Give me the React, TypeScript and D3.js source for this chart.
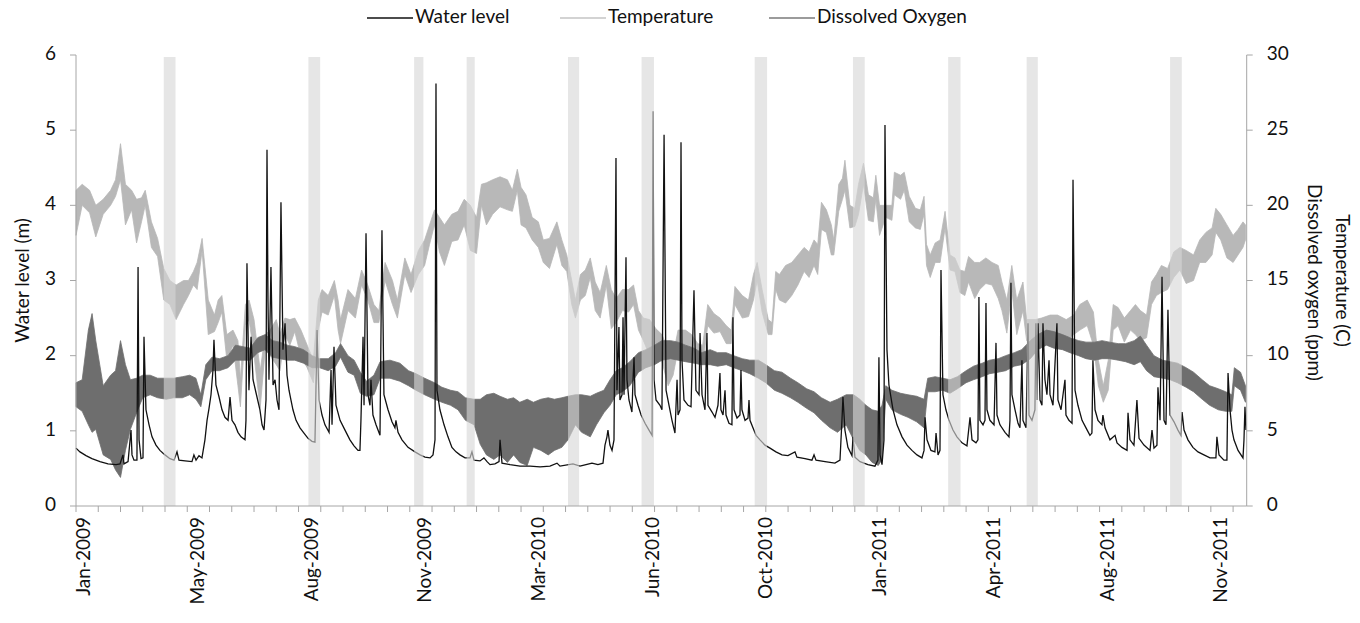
import React from "react";
import * as d3 from "d3";

// x axis is a category axis: one step per record day
const dayCount = 947;
const tickEvery = 18;
const labelDays = [7.5, 99.5, 191.5, 283.5, 375.5, 467.5, 559.5, 651.5, 743.5, 835.5, 927.5];
const labelNames = ["Jan-2009", "May-2009", "Aug-2009", "Nov-2009", "Mar-2010", "Jun-2010",
  "Oct-2010", "Jan-2011", "Apr-2011", "Aug-2011", "Nov-2011"];
const levelTicks = [0, 1, 2, 3, 4, 5, 6];
const rightTicks = [0, 5, 10, 15, 20, 25, 30];

// grey sampling windows [start day, end day]
const windows: [number, number][] = [
  [71, 80.5], [188, 197.5], [273.5, 281], [316, 322.5], [398, 407], [457.5, 467.5],
  [549, 559], [628.5, 638], [705.5, 715.5], [769, 778], [885, 894.5],
];

// water level (m): [day, level]
const waterLevel: [number, number][] = [
  [0, 0.77], [3.2, 0.72], [8.1, 0.67], [12.9, 0.63], [19.4, 0.59], [25.9, 0.56], [32.4, 0.55], [35.6, 0.56],
  [38.0, 0.68], [38.8, 0.56], [42.1, 0.59], [44.5, 1.01], [45.3, 0.68], [46.9, 0.61], [49.3, 0.61], [50.2, 3.18],
  [51.0, 0.88], [52.6, 0.63], [54.2, 0.64], [55.0, 2.25], [56.6, 1.28], [59.1, 1.08], [61.5, 0.92], [64.7, 0.81],
  [67.9, 0.74], [72.0, 0.68], [76.0, 0.63], [79.3, 0.61], [81.7, 0.72], [83.3, 0.61], [88.2, 0.60], [93.8, 0.59],
  [95.4, 0.68], [97.1, 0.61], [99.5, 0.67], [101.9, 0.64], [104.3, 0.88], [106.0, 1.14], [107.6, 1.30], [109.2, 1.48],
  [110.8, 1.81], [111.6, 2.21], [113.2, 1.61], [115.7, 1.45], [118.1, 1.28], [120.5, 1.18], [123.0, 1.14], [124.6, 1.45],
  [126.2, 1.14], [128.6, 1.08], [131.0, 0.98], [133.5, 0.92], [136.7, 0.88], [137.5, 1.14], [138.3, 3.23], [139.9, 1.54],
  [141.6, 2.25], [143.2, 1.68], [146.4, 1.45], [148.8, 1.28], [150.5, 1.08], [152.1, 1.01], [153.7, 1.41], [154.5, 4.74],
  [155.3, 2.74], [156.1, 1.68], [157.7, 3.18], [159.4, 1.61], [161.0, 1.68], [162.6, 1.41], [164.2, 1.28], [165.8, 4.04],
  [167.4, 2.08], [169.1, 2.43], [170.7, 1.74], [172.3, 1.54], [173.9, 1.41], [175.5, 1.28], [178.0, 1.14], [181.2, 1.04],
  [184.4, 0.97], [187.7, 0.90], [190.9, 0.86], [193.3, 0.85], [195.0, 2.34], [196.6, 1.41], [199.0, 1.21], [201.4, 1.08],
  [204.7, 0.98], [206.3, 1.81], [207.1, 1.08], [208.7, 2.12], [210.3, 1.34], [213.6, 1.14], [217.6, 1.01], [221.6, 0.88],
  [224.9, 0.80], [228.1, 0.74], [229.7, 0.74], [230.5, 1.14], [232.2, 2.25], [233.0, 1.34], [234.6, 3.63], [236.2, 1.48],
  [237.8, 1.34], [238.6, 1.68], [240.2, 1.21], [242.7, 1.08], [245.9, 0.94], [247.5, 3.67], [249.1, 1.48], [252.4, 1.28],
  [255.6, 1.12], [258.0, 1.04], [258.8, 1.14], [260.5, 0.98], [263.7, 0.88], [268.6, 0.78], [274.2, 0.72], [278.3, 0.68],
  [282.3, 0.65], [286.4, 0.64], [288.8, 0.68], [290.4, 0.88], [291.2, 5.62], [292.0, 1.54], [294.4, 1.28], [297.7, 1.08],
  [300.9, 0.92], [304.1, 0.78], [307.4, 0.72], [310.6, 0.68], [314.7, 0.64], [318.7, 0.64], [320.3, 0.72], [321.9, 0.61],
  [326.8, 0.60], [330.0, 0.64], [332.5, 0.59], [334.9, 0.55], [338.9, 0.56], [342.2, 0.59], [343.0, 0.88], [344.6, 0.57],
  [351.1, 0.55], [359.2, 0.53], [367.3, 0.53], [375.4, 0.52], [383.4, 0.53], [389.1, 0.57], [391.5, 0.53], [402.0, 0.56],
  [407.7, 0.53], [417.4, 0.57], [422.2, 0.55], [426.3, 0.57], [427.9, 0.81], [429.5, 0.92], [430.3, 1.01], [431.9, 0.81],
  [433.6, 0.74], [435.2, 0.88], [436.0, 2.74], [436.8, 4.63], [437.6, 1.54], [439.2, 2.38], [440.0, 1.41], [441.7, 1.48],
  [442.5, 2.51], [443.3, 1.48], [444.9, 3.31], [445.7, 1.68], [447.3, 1.41], [449.7, 1.25], [450.6, 1.68], [451.4, 1.98],
  [452.2, 1.48], [454.6, 1.34], [457.1, 1.21], [460.3, 1.10], [463.5, 1.01], [466.0, 0.94], [466.8, 5.25], [467.6, 1.68],
  [469.2, 1.41], [472.4, 1.34], [474.0, 1.28], [475.7, 4.94], [477.3, 1.54], [479.7, 1.34], [482.1, 1.14], [484.5, 0.97],
  [486.2, 1.68], [487.0, 1.21], [488.6, 1.28], [489.4, 4.84], [490.2, 1.94], [491.8, 1.41], [495.1, 1.34], [497.5, 1.32],
  [499.9, 2.87], [501.5, 1.54], [504.0, 1.48], [504.8, 2.30], [506.4, 1.48], [508.8, 1.28], [510.4, 2.30], [511.2, 1.34],
  [514.5, 1.25], [516.9, 1.18], [519.3, 1.34], [520.9, 1.77], [521.7, 1.28], [523.4, 1.21], [525.0, 1.54], [525.8, 1.21],
  [528.2, 1.10], [530.6, 1.08], [531.4, 2.51], [532.3, 1.28], [534.7, 1.17], [537.1, 1.21], [537.9, 1.81], [538.7, 1.28],
  [541.2, 1.14], [543.6, 1.17], [544.4, 1.41], [545.2, 1.14], [547.6, 1.04], [550.1, 0.94], [553.3, 0.88], [557.3, 0.81],
  [561.4, 0.77], [566.2, 0.72], [571.1, 0.68], [575.9, 0.67], [581.6, 0.72], [583.2, 0.65], [589.7, 0.63], [595.3, 0.61],
  [597.0, 0.68], [598.6, 0.61], [605.9, 0.59], [613.9, 0.57], [618.0, 0.61], [619.6, 1.14], [620.4, 1.45], [622.0, 1.01],
  [624.4, 0.78], [627.7, 0.67], [628.5, 0.92], [630.1, 0.65], [634.2, 0.59], [640.6, 0.55], [646.3, 0.53], [648.7, 0.61],
  [649.5, 1.98], [650.4, 0.68], [652.0, 0.55], [653.6, 0.88], [654.4, 5.07], [656.0, 2.08], [657.6, 1.61], [660.9, 1.28],
  [664.1, 1.08], [668.2, 0.92], [672.2, 0.81], [676.2, 0.74], [680.3, 0.68], [684.3, 0.64], [686.0, 0.74], [686.8, 1.18],
  [688.4, 0.88], [691.6, 0.74], [694.8, 0.72], [695.7, 0.97], [697.3, 0.68], [698.9, 0.74], [699.7, 3.14], [701.3, 1.48],
  [703.7, 1.28], [706.2, 1.14], [709.4, 1.01], [712.6, 0.92], [716.7, 0.84], [720.7, 0.80], [723.2, 1.18], [724.8, 0.88],
  [728.0, 0.84], [729.6, 0.88], [730.4, 2.78], [731.2, 1.14], [733.7, 1.08], [735.3, 1.14], [736.1, 2.70], [736.9, 1.28],
  [739.3, 1.14], [742.6, 1.08], [744.2, 2.17], [745.0, 1.21], [747.4, 1.08], [751.5, 0.98], [754.7, 0.92], [755.5, 1.14],
  [756.3, 2.97], [757.1, 1.48], [759.6, 1.28], [762.0, 1.10], [763.6, 1.04], [765.2, 1.94], [766.0, 1.14], [768.5, 1.04],
  [770.1, 2.43], [770.9, 1.21], [773.3, 1.14], [775.7, 1.28], [776.5, 2.43], [777.4, 1.41], [778.2, 2.43], [779.8, 1.41],
  [781.4, 1.34], [782.2, 2.43], [783.8, 1.68], [785.4, 1.48], [787.1, 1.94], [787.9, 1.48], [790.3, 1.34], [793.5, 2.43],
  [794.3, 1.41], [796.8, 1.28], [800.0, 1.68], [800.8, 1.21], [803.2, 1.14], [805.7, 1.10], [806.5, 4.34], [808.1, 1.54],
  [810.5, 1.34], [813.8, 1.14], [817.0, 1.04], [820.2, 0.94], [821.8, 0.97], [822.6, 1.94], [824.3, 1.28], [826.7, 1.14],
  [829.9, 1.08], [830.7, 1.21], [832.4, 1.04], [836.4, 0.88], [840.5, 0.94], [842.1, 0.84], [846.1, 0.78], [850.2, 0.74],
  [851.0, 1.24], [852.6, 0.88], [855.8, 0.81], [858.2, 1.41], [859.9, 0.90], [863.9, 0.81], [868.8, 0.74], [870.4, 1.01],
  [872.0, 0.77], [874.4, 0.81], [875.2, 1.58], [876.9, 1.14], [878.5, 3.05], [880.1, 1.14], [881.7, 1.08], [883.3, 2.61],
  [885.0, 1.21], [888.2, 1.12], [891.4, 1.01], [893.8, 0.94], [894.7, 1.25], [896.3, 1.01], [899.5, 0.88], [903.5, 0.78],
  [907.6, 0.72], [912.4, 0.68], [917.3, 0.64], [922.1, 0.64], [922.9, 0.92], [924.6, 0.68], [928.6, 0.61], [931.0, 0.61],
  [931.9, 1.77], [933.5, 1.28], [935.1, 1.01], [936.7, 0.88], [940.0, 0.74], [944.0, 0.64], [944.8, 0.88], [945.6, 1.32],
  [946.4, 1.01],
];

// temperature (C): [day, daily low, daily high]
const temperature: [number, number, number][] = [
  [0, 18.0, 21.0], [5, 20.0, 21.4], [11, 19.5, 21.0], [16, 17.9, 20.0], [22, 19.4, 20.4], [28, 20.0, 21.0], [32, 20.6, 21.7],
  [36, 21.7, 24.1], [40, 18.7, 21.4], [45, 19.7, 21.0], [49, 17.5, 20.4], [53, 18.9, 20.5], [56, 20.0, 21.0], [61, 17.2, 18.9],
  [66, 16.6, 17.8], [71, 13.7, 15.8], [76, 13.4, 15.0], [81, 12.4, 14.7], [87, 13.4, 15.0], [91, 14.0, 15.0], [95, 14.7, 15.6],
  [98, 14.4, 16.2], [102, 17.0, 17.8], [107, 11.4, 13.7], [112, 11.6, 12.7], [115, 12.2, 13.7], [118, 12.9, 14.0], [122, 9.7, 11.4],
  [127, 10.7, 11.7], [131, 8.0, 11.0], [133, 6.6, 8.4], [137, 12.0, 13.4], [140, 12.4, 13.7], [144, 10.0, 12.4], [149, 6.5, 9.0],
  [153, 10.4, 11.4], [157, 10.0, 11.7], [162, 9.4, 12.4], [165, 9.0, 11.4], [169, 11.4, 12.5], [173, 10.7, 12.4], [177, 11.6, 12.5],
  [182, 9.9, 11.7], [187, 9.2, 10.7], [192, 8.2, 9.7], [196, 11.7, 13.7], [199, 12.9, 14.4], [204, 12.7, 14.0], [209, 14.0, 15.0],
  [212, 11.7, 13.7], [214, 10.8, 12.4], [220, 13.0, 14.4], [226, 12.5, 13.8], [231, 14.7, 15.7], [236, 13.7, 14.7], [241, 12.2, 13.4],
  [245, 12.2, 13.0], [250, 15.0, 16.2], [256, 13.4, 15.0], [260, 12.5, 13.7], [266, 15.4, 16.5], [271, 14.2, 15.4], [277, 15.4, 17.0],
  [282, 16.0, 17.7], [286, 17.4, 18.7], [290, 18.7, 19.7], [294, 16.9, 19.2], [298, 16.0, 18.7], [304, 17.6, 19.4], [309, 17.7, 19.6],
  [314, 18.7, 20.4], [319, 17.0, 20.0], [324, 16.8, 19.2], [328, 20.0, 21.4], [332, 18.7, 21.5], [337, 19.4, 21.7], [343, 19.9, 21.9],
  [349, 19.7, 21.7], [353, 19.6, 21.0], [357, 21.0, 22.4], [360, 18.7, 21.2], [364, 18.5, 20.7], [369, 17.7, 19.2], [374, 17.2, 18.9],
  [378, 16.2, 17.7], [383, 15.8, 17.8], [389, 17.4, 18.9], [393, 16.0, 17.7], [397, 15.6, 16.7], [401, 13.4, 15.0], [404, 12.5, 13.7],
  [408, 13.7, 15.4], [412, 14.0, 15.7], [416, 15.2, 16.5], [420, 13.0, 14.9], [424, 12.5, 14.2], [429, 14.7, 16.0], [433, 11.8, 14.4],
  [437, 12.2, 13.8], [442, 13.0, 14.4], [447, 12.9, 14.4], [451, 13.4, 14.7], [455, 11.7, 13.0], [459, 11.0, 12.5], [464, 10.0, 12.4],
  [469, 10.0, 11.8], [474, 9.6, 11.4], [479, 8.0, 10.4], [483, 8.7, 10.0], [487, 10.4, 11.7], [493, 10.5, 11.7], [498, 10.0, 11.4],
  [503, 9.5, 10.8], [507, 9.4, 10.7], [511, 12.0, 13.4], [516, 11.5, 12.8], [521, 11.6, 12.5], [526, 10.8, 12.0], [530, 10.8, 11.7],
  [533, 13.4, 14.6], [539, 12.5, 14.0], [544, 12.6, 13.7], [548, 13.7, 15.4], [551, 15.0, 16.2], [555, 12.9, 14.4], [560, 11.4, 12.4],
  [563, 11.4, 12.2], [566, 14.4, 15.6], [569, 13.7, 15.4], [574, 13.5, 16.0], [579, 14.0, 16.2], [584, 14.7, 16.7], [589, 15.6, 17.2],
  [593, 15.2, 16.9], [597, 16.0, 17.7], [600, 15.4, 17.4], [603, 18.4, 20.2], [607, 18.2, 19.7], [611, 16.7, 18.7], [613, 16.7, 17.7],
  [617, 19.6, 21.4], [620, 20.4, 21.8], [622, 21.0, 23.0], [626, 18.5, 20.0], [630, 18.6, 19.8], [633, 19.4, 21.4], [637, 21.4, 22.8],
  [641, 19.0, 20.7], [645, 18.9, 20.5], [647, 20.4, 22.0], [650, 18.0, 20.0], [655, 19.2, 20.0], [660, 19.0, 20.0], [662, 20.7, 22.2],
  [667, 20.4, 22.0], [670, 21.0, 22.2], [674, 18.9, 20.6], [679, 18.5, 19.8], [683, 18.4, 19.7], [686, 19.4, 20.6], [688, 16.0, 17.4],
  [691, 15.2, 16.7], [695, 16.2, 17.5], [699, 16.2, 17.7], [703, 18.5, 19.6], [707, 15.7, 16.7], [711, 15.6, 16.5], [715, 14.2, 15.7],
  [719, 14.0, 15.6], [722, 14.9, 16.6], [727, 13.8, 16.2], [731, 14.4, 16.2], [736, 14.8, 16.5], [741, 14.7, 16.2], [746, 13.8, 16.0],
  [749, 13.0, 14.9], [753, 11.5, 13.7], [757, 14.4, 16.0], [761, 11.4, 13.7], [766, 13.0, 14.9], [769, 11.0, 12.4], [776, 10.7, 12.4],
  [781, 10.7, 12.5], [788, 11.4, 12.7], [794, 11.0, 12.7], [801, 11.0, 12.4], [807, 11.4, 12.7], [812, 11.7, 13.4], [818, 12.0, 13.7],
  [823, 10.7, 12.9], [827, 8.0, 9.7], [831, 6.9, 8.0], [835, 7.7, 9.7], [839, 11.7, 13.4], [843, 12.0, 13.2], [848, 10.9, 12.5],
  [853, 11.7, 13.0], [857, 11.4, 13.4], [861, 11.0, 13.0], [866, 11.2, 12.7], [870, 13.4, 14.9], [874, 14.0, 15.4], [878, 14.2, 16.0],
  [883, 14.4, 15.8], [888, 15.2, 16.9], [893, 15.7, 17.2], [898, 14.8, 17.0], [904, 15.0, 16.7], [909, 16.2, 17.7], [914, 16.2, 18.2],
  [919, 16.7, 18.5], [922, 18.2, 19.8], [926, 17.7, 19.4], [931, 16.5, 18.7], [936, 16.2, 18.0], [940, 16.7, 18.4], [944, 17.2, 18.9],
  [946, 17.7, 18.7],
];

// dissolved oxygen (ppm): [day, daily low, daily high]
const dissolvedOxygen: [number, number, number][] = [
  [0, 6.6, 8.2], [5, 6.3, 8.4], [10, 5.4, 11.7], [13, 4.9, 12.8], [16, 5.1, 11.0], [22, 3.4, 8.0], [28, 3.1, 8.7], [32, 2.4, 9.0],
  [36, 1.9, 11.0], [40, 3.7, 9.4], [44, 5.1, 8.4], [49, 6.2, 8.5], [54, 7.2, 8.7], [60, 7.4, 8.7], [66, 7.2, 8.5], [73, 7.1, 8.5],
  [79, 7.2, 8.5], [86, 7.2, 8.6], [92, 7.4, 8.7], [97, 7.1, 8.5], [101, 6.6, 7.4], [105, 8.4, 9.4], [110, 9.0, 9.9], [116, 9.0, 9.8],
  [123, 9.2, 10.0], [129, 9.7, 10.7], [135, 9.7, 10.6], [141, 9.7, 10.5], [147, 10.2, 11.2], [153, 10.4, 11.4], [159, 9.9, 11.0],
  [165, 9.8, 10.9], [171, 9.7, 10.7], [177, 9.7, 10.6], [184, 9.5, 10.4], [191, 9.2, 10.0], [197, 9.2, 9.8], [204, 9.0, 9.8],
  [210, 9.3, 10.2], [214, 9.9, 10.8], [220, 8.9, 10.0], [225, 8.7, 9.7], [230, 7.5, 8.9], [235, 7.3, 8.3], [241, 7.4, 8.7],
  [246, 8.5, 9.6], [254, 8.5, 9.7], [262, 8.3, 9.5], [269, 8.0, 9.0], [275, 7.7, 8.8], [282, 7.4, 8.5], [290, 7.1, 8.2],
  [296, 6.9, 7.9], [303, 6.7, 7.7], [309, 6.4, 7.6], [315, 5.7, 7.2], [322, 5.4, 7.1], [327, 4.1, 7.1], [332, 3.4, 7.4],
  [338, 3.1, 7.5], [343, 3.4, 7.3], [349, 2.9, 7.1], [354, 3.4, 7.2], [359, 2.9, 6.9], [365, 2.7, 7.1], [370, 3.9, 6.9],
  [376, 3.7, 7.1], [382, 3.4, 7.2], [387, 3.7, 7.1], [393, 3.9, 7.2], [398, 4.4, 7.3], [404, 5.4, 7.4], [409, 4.9, 7.4],
  [416, 4.6, 7.3], [421, 5.4, 7.5], [427, 6.2, 7.7], [432, 6.7, 8.4], [437, 7.4, 9.0], [442, 7.6, 9.2], [448, 8.0, 9.6],
  [455, 8.9, 10.2], [461, 9.2, 10.4], [468, 9.4, 10.7], [474, 9.7, 11.0], [481, 9.8, 11.0], [487, 9.7, 10.9], [493, 9.6, 10.7],
  [500, 9.5, 10.5], [506, 9.4, 10.2], [513, 9.4, 10.4], [519, 9.3, 10.2], [526, 9.4, 10.2], [532, 9.2, 10.0], [539, 9.0, 9.8],
  [545, 8.8, 9.7], [552, 8.5, 9.7], [558, 8.2, 9.4], [565, 7.7, 9.0], [571, 7.5, 8.9], [578, 7.2, 8.5], [584, 6.9, 8.2],
  [591, 6.5, 7.8], [597, 6.2, 7.6], [603, 5.7, 7.2], [610, 5.2, 6.9], [616, 4.9, 7.1], [623, 5.4, 7.4], [629, 4.4, 7.4],
  [634, 3.7, 7.1], [639, 3.4, 6.7], [644, 2.9, 6.4], [649, 2.7, 6.3], [652, 3.1, 6.7], [655, 7.1, 8.0], [660, 6.4, 7.7],
  [667, 6.1, 7.5], [673, 5.9, 7.4], [680, 5.6, 7.3], [686, 5.2, 7.1], [689, 7.6, 8.5], [695, 7.6, 8.6], [701, 7.7, 8.5],
  [707, 7.5, 8.4], [713, 7.8, 8.6], [720, 8.2, 9.0], [726, 8.4, 9.3], [733, 8.6, 9.5], [739, 8.8, 9.7], [746, 8.9, 9.8],
  [752, 9.0, 10.0], [759, 9.3, 10.2], [765, 9.4, 10.4], [772, 9.8, 11.0], [778, 10.4, 11.4], [785, 10.7, 11.7], [791, 10.5, 11.6],
  [798, 10.4, 11.4], [804, 10.2, 11.2], [811, 10.0, 11.0], [817, 9.8, 10.9], [824, 9.7, 10.9], [830, 9.8, 11.0], [836, 9.8, 10.9],
  [843, 9.7, 10.8], [849, 9.6, 10.8], [856, 9.4, 11.0], [861, 9.6, 11.3], [866, 9.0, 10.7], [872, 8.6, 10.0], [879, 8.5, 9.7],
  [885, 8.4, 9.6], [891, 8.2, 9.5], [898, 7.9, 9.2], [904, 7.6, 8.9], [911, 7.1, 8.4], [917, 6.7, 8.0], [924, 6.4, 7.8],
  [930, 6.3, 7.6], [935, 6.3, 7.4], [937, 8.0, 9.2], [942, 7.7, 8.9], [946, 6.9, 8.0],
];

const legendItems = [
  { name: "Water level", color: "#111", x: 367 },
  { name: "Temperature", color: "#c4c4c4", x: 560 },
  { name: "Dissolved Oxygen", color: "#7a7a7a", x: 769 },
];

export default function App() {
  const width = 1360;
  const height = 623;
  const left = 76;
  const right = 1246.7;
  const top = 55;
  const bottom = 506;
  const font = "Lato, 'Open Sans', sans-serif";
  const axisColor = "#a6a6a6";

  const x = d3.scaleLinear().domain([0, dayCount]).range([left, right]);
  const yLevel = d3.scaleLinear().domain([0, 6]).range([bottom, top]);
  const yRight = d3.scaleLinear().domain([0, 30]).range([bottom, top]);

  const rangeArea = d3.area<[number, number, number]>()
    .x((d) => x(d[0]))
    .y0((d) => yRight(d[1]))
    .y1((d) => yRight(d[2]));
  const levelLine = d3.line<[number, number]>()
    .x((d) => x(d[0]))
    .y((d) => yLevel(d[1]));

  const xTicks = d3.range(0, dayCount, tickEvery);

  return (
    <svg width={width} height={height} style={{ position: "absolute", left: 0, top: 0 }} fontFamily={font}>
      <rect width={width} height={height} fill="#fff" />

      <path d={rangeArea(temperature) ?? ""} fill="#b8b8b8" stroke="#b8b8b8" strokeWidth={0.8} />
      <path d={rangeArea(dissolvedOxygen) ?? ""} fill="#6e6e6e" stroke="#6e6e6e" strokeWidth={0.8} />
      <path d={levelLine(waterLevel) ?? ""} fill="none" stroke="#111" strokeWidth={1.3} />

      {windows.map(([a, b], i) => (
        <rect key={i} x={x(a)} y={yLevel(6) + 2} width={x(b) - x(a)} height={yLevel(0) - yLevel(6) - 2}
          fill="#d6d6d6" fillOpacity={0.62} />
      ))}

      {/* left axis */}
      <line x1={left} x2={left} y1={top} y2={bottom} stroke={axisColor} />
      {levelTicks.map((t) => (
        <g key={t} transform={`translate(${left},${yLevel(t)})`}>
          <line x1={-6} x2={0} stroke={axisColor} />
          <text x={-20} dominantBaseline="middle" textAnchor="end" fontSize={19} fill="#111">{t}</text>
        </g>
      ))}
      <text transform={`translate(24,${(top + bottom) / 2}) rotate(-90)`} textAnchor="middle"
        dominantBaseline="middle" fontSize={19} fill="#111">Water level (m)</text>

      {/* right axis */}
      <line x1={right} x2={right} y1={top} y2={bottom} stroke={axisColor} />
      {rightTicks.map((t) => (
        <g key={t} transform={`translate(${right},${yRight(t)})`}>
          <line x1={0} x2={6} stroke={axisColor} />
          <text x={20} dominantBaseline="middle" textAnchor="start" fontSize={19} fill="#111">{t}</text>
        </g>
      ))}
      <text transform={`translate(1341,${(top + bottom) / 2}) rotate(90)`} textAnchor="middle"
        dominantBaseline="middle" fontSize={19} fill="#111">Temperature (C)</text>
      <text transform={`translate(1313,${(top + bottom) / 2 + 2}) rotate(90)`} textAnchor="middle"
        dominantBaseline="middle" fontSize={19} fill="#111">Dissolved oxygen (ppm)</text>

      {/* bottom axis */}
      <line x1={left} x2={right} y1={bottom} y2={bottom} stroke={axisColor} />
      {xTicks.map((t) => (
        <line key={t} x1={x(t)} x2={x(t)} y1={bottom} y2={bottom + 6} stroke={axisColor} />
      ))}
      {labelDays.map((d, i) => (
        <text key={labelNames[i]} transform={`translate(${x(d)},${bottom + 11}) rotate(-90)`}
          textAnchor="end" dominantBaseline="middle" fontSize={19} fill="#111">{labelNames[i]}</text>
      ))}

      {/* legend */}
      {legendItems.map((item) => (
        <g key={item.name} transform={`translate(${item.x},18)`}>
          <line x1={0} x2={46} stroke={item.color} strokeWidth={1.5} />
          <text x={48} dominantBaseline="middle" fontSize={19} fill="#111">{item.name}</text>
        </g>
      ))}
    </svg>
  );
}
